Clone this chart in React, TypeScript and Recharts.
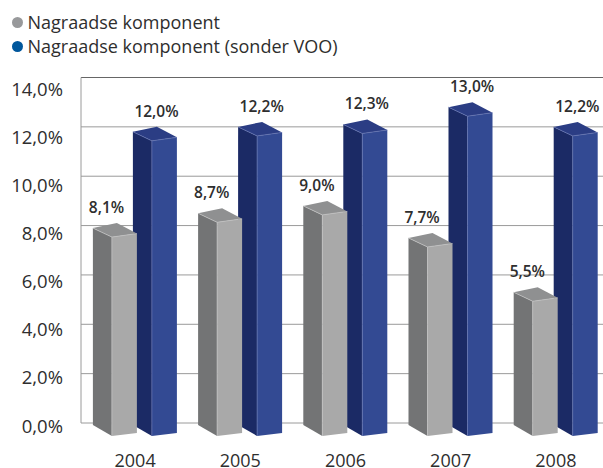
import React from "react";
import { ComposedChart, Bar, XAxis, YAxis, CartesianGrid, ReferenceLine, LabelList } from "recharts";

const years = ["2004", "2005", "2006", "2007", "2008"];
const greyValues = [8.1, 8.7, 9.0, 7.7, 5.5];
const blueValues = [12.0, 12.2, 12.3, 13.0, 12.2];
const yTicks = [0, 2, 4, 6, 8, 10, 12, 14];
const seriesNames = ["Nagraadse komponent", "Nagraadse komponent (sonder VOO)"];
const legendColors = ["#98999b", "#00579c"];

const rows = years.map((year, i) => ({ year, grey: greyValues[i], blue: blueValues[i] }));

const FONT = "'Open Sans', sans-serif";
const TEXT = "#2e2e2e";

type Palette = { side: string; front: string; top: string; edge: string };
const greyPalette: Palette = { side: "#737475", front: "#a9a9a9", top: "#8f9091", edge: "#c4c4c4" };
const bluePalette: Palette = { side: "#1b2a65", front: "#334a93", top: "#2b3d84", edge: "#6576b3" };

const pts = (a: number[][]) => a.map((p) => p.join(",")).join(" ");

function prism(shift: number, pal: Palette) {
  return (props: any) => {
    const { x, y, height } = props;
    const f = x + shift; // front-left corner x, bar width = 25 by barSize
    const r = f + 25;
    const l = f - 19;
    const base = y + height;
    return (
      <g>
        <polygon points={pts([[l, y + 5], [f, y + 14], [f, base + 13], [l, base + 2]])} fill={pal.side} />
        <polygon points={pts([[f, y + 14], [r, y + 10.5], [r, base + 10], [f, base + 13]])} fill={pal.front} />
        <polygon points={pts([[l, y + 5], [f + 5, y], [r, y + 10.5], [f, y + 14]])} fill={pal.top} />
        <polyline points={pts([[l, y + 5], [f, y + 14], [r, y + 10.5]])} fill="none" stroke={pal.edge} strokeWidth={0.7} />
        <line x1={f} y1={y + 14} x2={f} y2={base + 13} stroke={pal.edge} strokeWidth={0.7} />
      </g>
    );
  };
}

const YTick = (props: any) => {
  const { y, payload } = props;
  return (
    <text x={63} y={y + 9.5 + payload.value * 0.66} textAnchor="end" fontFamily={FONT} fontSize={18.5} fill={TEXT}>
      {payload.value.toFixed(1).replace(".", ",")}%
    </text>
  );
};

const XTick = (props: any) => {
  const { x, payload } = props;
  return (
    <text x={x + 1.5} y={466.5} textAnchor="middle" fontFamily={FONT} fontSize={18} fill={TEXT}>
      {payload.value}
    </text>
  );
};

const fmt = (v: any) => Number(v).toFixed(1).replace(".", ",") + "%";

const valueLabel = (dx: number) => (props: any) => {
  const { x, y, width, value } = props;
  return (
    <text x={x + width / 2 + dx} y={y - 10} textAnchor="middle" fontFamily={FONT} fontSize={15.5} fontWeight={600} fill={TEXT}>
      {fmt(value)}
    </text>
  );
};

export default function App() {
  return (
    <div style={{ position: "absolute", left: 0, top: 0, width: 603, height: 468, background: "#fff", overflow: "hidden" }}>
      <div style={{ position: "absolute", left: 11.5, top: 10, fontFamily: FONT, fontSize: 18, color: TEXT }}>
        {seriesNames.map((name, i) => (
          <div key={name} style={{ display: "flex", alignItems: "center", height: 24 }}>
            <span style={{ width: 11, height: 11, borderRadius: "50%", background: legendColors[i], marginRight: 5 }} />
            {name}
          </div>
        ))}
      </div>
      <ComposedChart width={603} height={468} data={rows} margin={{ top: 77.5, left: 0, right: -4, bottom: 0 }} style={{ position: "absolute", left: 0, top: 0 }}>
        <CartesianGrid horizontal vertical={false} stroke="#9a9a9a" strokeWidth={1} xAxisId="g" />
        <ReferenceLine y={14} xAxisId="g" stroke="#666" strokeWidth={1} />
        <XAxis xAxisId="g" dataKey="year" axisLine={false} tickLine={false} tick={<XTick />} height={45} interval={0} />
        <XAxis xAxisId="b" dataKey="year" hide />
        <YAxis width={81} domain={[0, 14]} ticks={yTicks} interval={0} axisLine={{ stroke: "#9a9a9a" }} tickLine={false} tick={<YTick />} />
        <Bar xAxisId="b" dataKey="blue" name={seriesNames[1]} barSize={25} isAnimationActive={false} shape={prism(30.9, bluePalette)}>
          <LabelList dataKey="blue" content={valueLabel(23) as any} />
        </Bar>
        <Bar xAxisId="g" dataKey="grey" name={seriesNames[0]} barSize={25} isAnimationActive={false} shape={prism(-9.1, greyPalette)}>
          <LabelList dataKey="grey" content={valueLabel(-27) as any} />
        </Bar>
      </ComposedChart>
    </div>
  );
}
